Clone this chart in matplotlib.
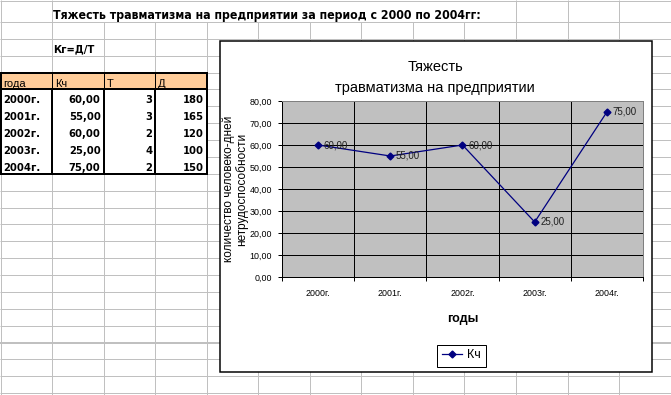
import numpy as np
import matplotlib
matplotlib.use("Agg")
import matplotlib.pyplot as plt
from matplotlib import font_manager
from matplotlib.patches import Rectangle

plt.rcParams['font.family'] = ['Liberation Sans', 'DejaVu Sans']

# data from the sheet
years = ["2000г.", "2001г.", "2002г.", "2003г.", "2004г."]
kch = [60.00, 55.00, 60.00, 25.00, 75.00]
t_vals = [3, 3, 2, 4, 2]
d_vals = [180, 165, 120, 100, 150]
headers = ["года", "Кч", "Т", "Д"]
y_ticks = [0, 10, 20, 30, 40, 50, 60, 70, 80]

sheet_title = "Тяжесть травматизма на предприятии за период с 2000 по 2004гг:"
formula = "Кг=Д/Т"
chart_title = ["Тяжесть", "травматизма на предприятии"]
y_label = "количество человеко-дней\nнетрудоспособности"
x_label = "годы"
series_name = "Кч"

def fmt(v):
    return f"{v:.2f}".replace(".", ",")

# heavy condensed face for the bold sheet cells, if there is one
cond = font_manager.FontProperties(family="DejaVu Sans", stretch="condensed",
                                   weight="bold")
if "Condensed" in font_manager.findfont(cond):
    cell_font = dict(family="DejaVu Sans", fontstretch="condensed")
    cell_size = 8.0
else:
    cell_font = dict(family="Liberation Sans")
    cell_size = 7.6

W, H = 671, 395
PX = 0.72  # one pixel in points
fig = plt.figure(figsize=(W / 100, H / 100), dpi=100)

# ---- spreadsheet background (pixel coords, y down) ----
bg = fig.add_axes([0, 0, 1, 1])
bg.set_xlim(0, W)
bg.set_ylim(H, 0)
bg.axis("off")

col_w = 51.55
row_h = 16.87
top_row = 22
cols = [0.5 + col_w * i for i in range(14)]
rows = [top_row + row_h * k for k in range(23)]
grid_c = "#c0c0c0"

bg.hlines([0.5], 0, W, color=grid_c, lw=PX)
for k, y in enumerate(rows):
    bg.hlines(y, 0, W, color=grid_c, lw=2 * PX if k == 19 else PX)
for x in cols:
    bg.vlines(x, top_row, H, color=grid_c, lw=PX)
    if not (60 < x < 485):
        bg.vlines(x, 0, top_row, color=grid_c, lw=PX)

# sheet title and formula
title_txt = bg.text(cols[1] + 1, 18.5, sheet_title, fontweight="bold",
                    fontsize=12, va="baseline", zorder=4, **cell_font)
fig.canvas.draw()
w = title_txt.get_window_extent().width
title_txt.set_fontsize(12 * 428 / w)
bg.text(cols[1] + 1, 52, formula, fontweight="bold", fontsize=cell_size,
        va="baseline", zorder=4, **cell_font)

# table
t_top = rows[3]
n_rows = len(years) + 1
t_bot = t_top + n_rows * row_h
bg.add_patch(Rectangle((cols[0], t_top), cols[4] - cols[0], t_bot - t_top,
                       fc="white", ec="none", zorder=2))
bg.add_patch(Rectangle((cols[0], t_top), cols[4] - cols[0], row_h,
                       fc="#ffcc99", ec="none", zorder=2))
bg.vlines(cols[1:4], t_top, t_top + row_h, color="black", lw=PX, zorder=3)
bg.vlines(cols[1:4], t_top + row_h, t_bot, color="black", lw=2 * PX, zorder=3)
bg.hlines(t_top + row_h, cols[0], cols[4], color="black", lw=2 * PX, zorder=3)
bg.add_patch(Rectangle((cols[0] + 0.5, t_top), cols[4] - cols[0] - 0.5, t_bot - t_top,
                       fc="none", ec="black", lw=2 * PX, zorder=3))

for j, h in enumerate(headers):
    bg.text(cols[j] + 3, t_top + row_h - 2.5, h, fontsize=8,
            va="baseline", zorder=4)
for i, yr in enumerate(years):
    yb = t_top + (i + 2) * row_h - 3
    cells = [yr, fmt(kch[i]), str(t_vals[i]), str(d_vals[i])]
    for j, c in enumerate(cells):
        if j == 0:
            bg.text(cols[j] + 2.5, yb, c, fontweight="bold", fontsize=cell_size,
                    va="baseline", zorder=4, **cell_font)
        else:
            bg.text(cols[j + 1] - 3, yb, c, fontweight="bold", fontsize=cell_size,
                    va="baseline", ha="right", zorder=4, **cell_font)

# chart frame
bg.add_patch(Rectangle((219.5, 41), 432.5, 331, fc="white", ec="black",
                       lw=1.5 * PX, zorder=5))

# ---- chart ----
ax = fig.add_axes([282 / W, 1 - 277 / H, 361 / W, 176 / H])
ax.set_zorder(2)
ax.set_facecolor("#c0c0c0")

x = np.arange(len(years)) + 0.5
ax.plot(x, kch, color="#000080", lw=0.9, marker="D", ms=3.5, label=series_name,
        zorder=3)
for xi, v in zip(x, kch):
    ax.annotate(fmt(v), (xi, v), xytext=(4, 0), textcoords="offset points",
                va="center", fontsize=7, color="#202020")

ax.set_xlim(0, len(years))
ax.set_ylim(y_ticks[0], y_ticks[-1])
ax.set_yticks(y_ticks)
ax.set_yticklabels([fmt(v) for v in y_ticks])
ax.set_xticks(range(len(years) + 1))
ax.set_xticklabels([])
ax.set_xticks(x, minor=True)
ax.set_xticklabels(years, minor=True)

ax.tick_params(axis="y", length=4 * PX, width=PX, pad=4.3, labelsize=6.4)
ax.tick_params(axis="x", which="major", length=4 * PX, width=PX)
ax.tick_params(axis="x", which="minor", length=0, pad=8.3, labelsize=6.4)

ax.set_axisbelow(True)
ax.grid(True, which="major", color="black", lw=PX)
for s in ["left", "bottom"]:
    ax.spines[s].set_color("black")
    ax.spines[s].set_linewidth(PX)
for s in ["top", "right"]:
    ax.spines[s].set_color("#808080")
    ax.spines[s].set_linewidth(PX)

ax.set_ylabel(y_label, fontsize=8.5, va="center", linespacing=1.05)
ax.yaxis.set_label_coords((235 - 282) / 361, 0.5)
ax.set_xlabel(x_label, fontsize=9, fontweight="bold", va="center")
ax.xaxis.set_label_coords(0.5, (277 - 319) / 176)

fig.text(435 / W, 1 - 70.7 / H, chart_title[0], ha="center", va="baseline",
         fontsize=10.5)
fig.text(435 / W, 1 - 92 / H, chart_title[1], ha="center", va="baseline",
         fontsize=10.5)

leg = fig.legend(loc="center", bbox_to_anchor=(461.5 / W, 1 - 355.5 / H),
                 fontsize=9, fancybox=False, framealpha=1, edgecolor="black",
                 handlelength=1.6, handletextpad=0.35, borderpad=0.4,
                 borderaxespad=0)
leg.get_frame().set_linewidth(PX)
leg.set_zorder(6)

fig.savefig("out.png", dpi=100)
